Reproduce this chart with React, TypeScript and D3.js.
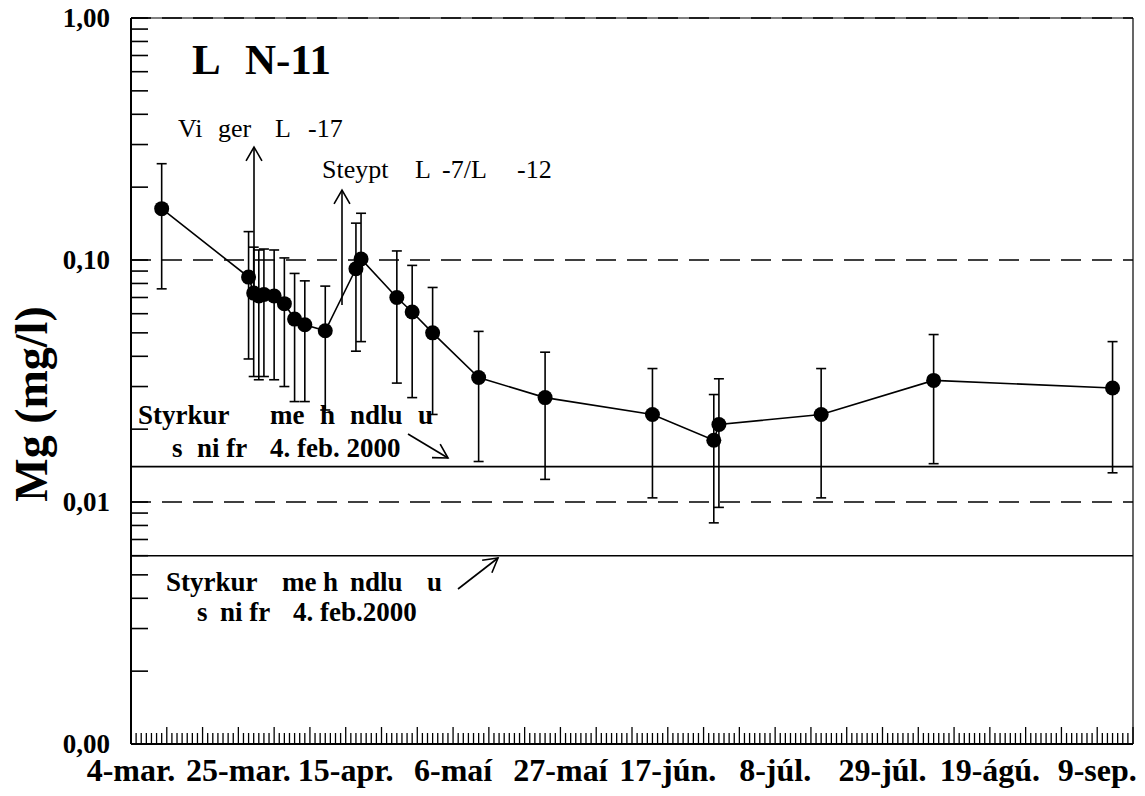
import React from 'react';
import * as d3 from 'd3';

const W = 1145;
const H = 796;

// ---- data ----
const sampleDates = [
  '2000-03-10', '2000-03-27', '2000-03-28', '2000-03-29', '2000-03-30', '2000-04-01',
  '2000-04-03', '2000-04-05', '2000-04-07', '2000-04-11', '2000-04-17', '2000-04-18',
  '2000-04-25', '2000-04-28', '2000-05-02', '2000-05-11', '2000-05-24', '2000-06-14',
  '2000-06-26', '2000-06-27', '2000-07-17', '2000-08-08', '2000-09-12',
];
const mgValues = [
  0.163, 0.085, 0.073, 0.071, 0.072, 0.071,
  0.066, 0.057, 0.054, 0.051, 0.092, 0.101,
  0.070, 0.061, 0.050, 0.0327, 0.027, 0.023,
  0.018, 0.0209, 0.023, 0.0318, 0.0296,
];
const mgErrors = [
  0.087, 0.046, 0.040, 0.039, 0.039, 0.039,
  0.036, 0.031, 0.028, 0.027, 0.050, 0.055,
  0.039, 0.034, 0.027, 0.018, 0.0146, 0.0126,
  0.0098, 0.0114, 0.0126, 0.0174, 0.0164,
];

const yTickValues = [1, 0.1, 0.01, 0.001];
const yTickLabels = ['1,00', '0,10', '0,01', '0,00'];

const xLabelDates = [
  '2000-03-04', '2000-03-25', '2000-04-15', '2000-05-06', '2000-05-27',
  '2000-06-17', '2000-07-08', '2000-07-29', '2000-08-19', '2000-09-09',
];
const xLabels = [
  '4-mar.', '25-mar.', '15-apr.', '6-maí', '27-maí',
  '17-jún.', '8-júl.', '29-júl.', '19-ágú.', '9-sep.',
];
const xDomain = ['2000-03-04', '2000-09-16'];

const dashedLevels = [1, 0.1, 0.01];
const limitLevels = [0.014, 0.006];

// ---- layout ----
const left = 131;
const right = 1133;
const top = 18;
const bottom = 744;
const FONT = "'Liberation Serif', 'Times New Roman', Times, serif";

const parse = d3.utcParse('%Y-%m-%d');

function arrowHead(x1: number, y1: number, x2: number, y2: number, len = 16, ang = 0.52) {
  const a = Math.atan2(y2 - y1, x2 - x1);
  const p1 = [x2 - len * Math.cos(a - ang), y2 - len * Math.sin(a - ang)];
  const p2 = [x2 - len * Math.cos(a + ang), y2 - len * Math.sin(a + ang)];
  return `M${p1[0]},${p1[1]}L${x2},${y2}L${p2[0]},${p2[1]}`;
}

function Arrow({ x1, y1, x2, y2 }: { x1: number; y1: number; x2: number; y2: number }) {
  return (
    <g stroke="#000" strokeWidth={1.6} fill="none">
      <line x1={x1} y1={y1} x2={x2} y2={y2} />
      <path d={arrowHead(x1, y1, x2, y2)} />
    </g>
  );
}

export default function App() {
  const x = d3
    .scaleUtc()
    .domain([parse(xDomain[0])!, parse(xDomain[1])!])
    .range([left, right]);
  const y = d3.scaleLog().domain([0.001, 1]).range([bottom, top]);

  const pts = sampleDates.map((d, i) => ({
    x: x(parse(d)!),
    y: y(mgValues[i]),
    yHi: y(mgValues[i] + mgErrors[i]),
    yLo: y(Math.max(mgValues[i] - mgErrors[i], 0.0011)),
  }));

  const line = d3
    .line<{ x: number; y: number }>()
    .x((d) => d.x)
    .y((d) => d.y);

  const days = d3.utcDay.range(parse(xDomain[0])!, d3.utcDay.offset(parse(xDomain[1])!, 1));

  const minorY: number[] = [];
  [-3, -2, -1].forEach((k) => {
    for (let m = 2; m <= 9; m++) minorY.push(m * Math.pow(10, k));
  });

  return (
    <div style={{ position: 'absolute', left: 0, top: 0, width: W, height: H, background: '#fff' }}>
      <svg width={W} height={H} style={{ display: 'block', fontFamily: FONT }}>
        <rect x={0} y={0} width={W} height={H} fill="#fff" />

        {/* dashed reference levels */}
        {dashedLevels.map((v) => (
          <line key={'d' + v} x1={left} x2={right} y1={y(v)} y2={y(v)} stroke="#000" strokeWidth={1.6} strokeDasharray="20,11" />
        ))}
        {/* solid limit lines */}
        {limitLevels.map((v) => (
          <line key={'l' + v} x1={left} x2={right} y1={y(v)} y2={y(v)} stroke="#000" strokeWidth={1.6} />
        ))}

        {/* frame */}
        <line x1={left} x2={left} y1={top} y2={bottom} stroke="#000" strokeWidth={2} />
        <line x1={left} x2={right} y1={bottom} y2={bottom} stroke="#000" strokeWidth={2} />
        <line x1={left} x2={right} y1={top} y2={top} stroke="#000" strokeWidth={1.2} />
        <line x1={right} x2={right} y1={top} y2={bottom} stroke="#000" strokeWidth={1.2} />

        {/* y ticks */}
        {yTickValues.concat(minorY).map((v) => (
          <line key={'yt' + v} x1={left} x2={left + 17} y1={y(v)} y2={y(v)} stroke="#000" strokeWidth={1.6} />
        ))}
        {yTickValues.map((v, i) => (
          <text key={'yl' + v} x={110} y={y(v)} dy="0.35em" textAnchor="end" fontWeight="bold" fontSize={27}>
            {yTickLabels[i]}
          </text>
        ))}

        {/* x ticks */}
        {days.map((d, i) => {
          const xx = x(d);
          const major = i % 7 === 0;
          return (
            <line key={'xt' + i} x1={xx} x2={xx} y1={bottom} y2={bottom - (major ? 17 : 11)} stroke="#000" strokeWidth={1.3} />
          );
        })}
        {xLabelDates.map((d, i) => (
          <text key={'xl' + i} x={x(parse(d)!)} y={781} textAnchor="middle" fontWeight="bold" fontSize={32}>
            {xLabels[i]}
          </text>
        ))}

        {/* axis title */}
        <text transform="translate(47,404) rotate(-90)" textAnchor="middle" fontWeight="bold" fontSize={46}>
          Mg (mg/l)
        </text>

        {/* error bars */}
        {pts.map((p, i) => (
          <g key={'e' + i} stroke="#000" strokeWidth={1.6}>
            <line x1={p.x} x2={p.x} y1={p.yHi} y2={p.yLo} />
            <line x1={p.x - 5} x2={p.x + 5} y1={p.yHi} y2={p.yHi} />
            <line x1={p.x - 5} x2={p.x + 5} y1={p.yLo} y2={p.yLo} />
          </g>
        ))}
        {/* line */}
        <path d={line(pts) || ''} fill="none" stroke="#000" strokeWidth={1.6} />
        {/* markers */}
        {pts.map((p, i) => (
          <circle key={'c' + i} cx={p.x} cy={p.y} r={7.5} fill="#000" />
        ))}

        {/* title */}
        <text y={74} fontWeight="bold" fontSize={43}>
          <tspan x={192}>L</tspan>
          <tspan x={245}>N-11</tspan>
        </text>

        {/* annotations */}
        <text y={137} fontSize={26}>
          <tspan x={178}>Vi</tspan>
          <tspan x={218}>ger</tspan>
          <tspan x={275}>L</tspan>
          <tspan x={308}>-17</tspan>
        </text>
        <Arrow x1={254} y1={300} x2={254} y2={147} />

        <text y={178} fontSize={26}>
          <tspan x={322}>Steypt</tspan>
          <tspan x={415}>L</tspan>
          <tspan x={442}>-7/L</tspan>
          <tspan x={517}>-12</tspan>
        </text>
        <Arrow x1={342} y1={305} x2={342} y2={190} />

        <text fontWeight="bold" fontSize={27}>
          <tspan x={138} y={424}>Styrkur</tspan>
          <tspan x={270} y={424}>me</tspan>
          <tspan x={320} y={424}>h</tspan>
          <tspan x={350} y={424}>ndlu</tspan>
          <tspan x={418} y={424}>u</tspan>
          <tspan x={172} y={457}>s</tspan>
          <tspan x={197} y={457}>ni fr</tspan>
          <tspan x={270} y={457}>4. feb. 2000</tspan>
        </text>
        <Arrow x1={408} y1={434} x2={448} y2={458} />

        <text fontWeight="bold" fontSize={27}>
          <tspan x={166} y={591}>Styrkur</tspan>
          <tspan x={282} y={591}>me</tspan>
          <tspan x={323} y={591}>h</tspan>
          <tspan x={350} y={591}>ndlu</tspan>
          <tspan x={427} y={591}>u</tspan>
          <tspan x={197} y={621}>s</tspan>
          <tspan x={220} y={621}>ni fr</tspan>
          <tspan x={293} y={621}>4. feb.2000</tspan>
        </text>
        <Arrow x1={458} y1={589} x2={498} y2={558} />
      </svg>
    </div>
  );
}
